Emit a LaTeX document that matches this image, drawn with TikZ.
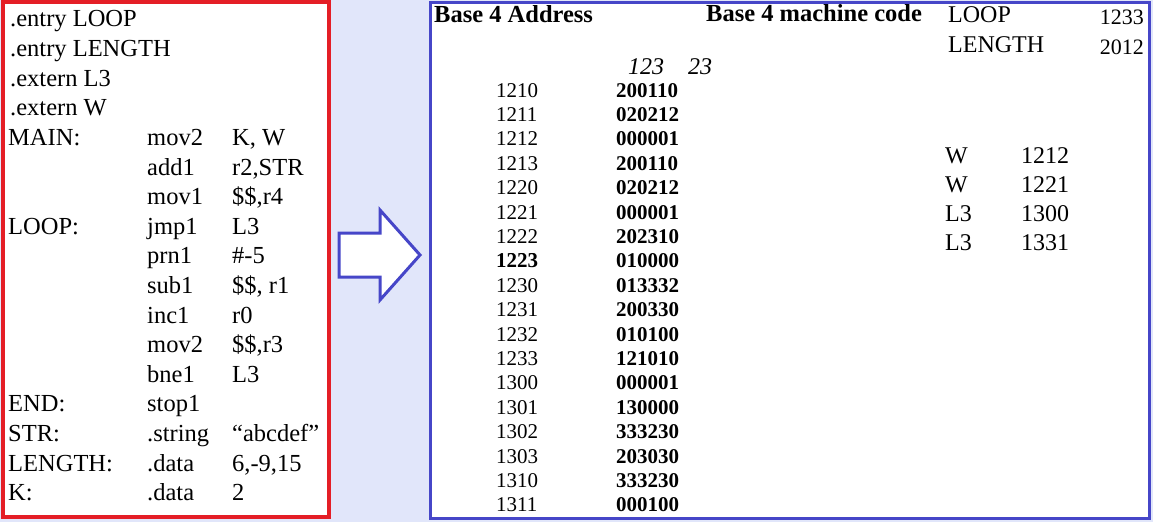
\documentclass[tikz,border=0pt]{standalone}
\usepackage{fontspec}
\setmainfont{Liberation Serif}
\definecolor{boxred}{RGB}{228,30,38}
\definecolor{boxblue}{RGB}{70,70,200}
\definecolor{bgblue}{RGB}{225,230,250}
\begin{document}
\begin{tikzpicture}[
    x=1pt, y=-1pt,
    src/.style={
        anchor=base west,
        inner sep=0pt,
        yshift=-8pt,
        font=\fontsize{24.5}{26}\selectfont
    },
    obj/.style={
        anchor=base west,
        inner sep=0pt,
        yshift=-7pt,
        font=\fontsize{21}{23}\selectfont
    },
    code/.style={
        obj,
        font=\fontsize{21}{23}\selectfont\bfseries
    },
    sym/.style={
        obj,
        yshift=-1pt,
        font=\fontsize{24}{26}\selectfont
    }
]

\useasboundingbox (0,0) rectangle (1153,522);
\fill[bgblue] (0,0) rectangle (1153,522);

% Source program
\fill[white] (3,2) rectangle (329,517);
\draw[boxred, line width=4pt] (3,2) rectangle (329,517);

\foreach \txt [count=\i] in {.entry LOOP, .entry LENGTH, .extern L3, .extern W}
    \node[src] (dir\i) at (10,{19+29.6*(\i-1)}) {\txt};

\foreach \lab/\op/\arg [count=\i] in {
    MAIN:/mov2/{K, W}, /add1/{r2,STR}, /mov1/{\$\$,r4},
    LOOP:/jmp1/L3, /prn1/\#-5, /sub1/{\$\$, r1}, /inc1/r0,
    /mov2/{\$\$,r3}, /bne1/L3, END:/stop1/, STR:/.string/{``abcdef''},
    LENGTH:/.data/{6,-9,15}, K:/.data/2}
{
    \node[src] (lab\i) at (8,{19+29.6*(\i+3)}) {\lab};
    \node[src] (op\i) at (147,{19+29.6*(\i+3)}) {\op};
    \node[src] (arg\i) at (232,{19+29.6*(\i+3)}) {\arg};
}

% Arrow
\draw[boxblue, line width=3pt, fill=white]
    (339,233) -- (380,233) -- (380,210) -- (420,255) -- (380,300)
    -- (380,277) -- (339,277) -- cycle;

% Object file
\fill[white] (430,2) rectangle (1149,518);
\draw[boxblue, line width=3pt] (430,2) rectangle (1149,518);

\node[code, yshift=-1pt, font=\fontsize{24.5}{26}\selectfont\bfseries] (hadr) at (434,15) {Base 4 Address};
\node[code, yshift=-1pt, font=\fontsize{24.5}{26}\selectfont\bfseries] (hcode) at (706,13) {Base 4 machine code};
\node[sym, font=\fontsize{24}{26}\selectfont\itshape] (cols) at (628,66) {123\quad 23};

\foreach \adr/\mc [count=\i] in {
    1210/200110, 1211/020212, 1212/000001, 1213/200110, 1220/020212,
    1221/000001, 1222/202310, 1223/010000, 1230/013332, 1231/200330,
    1232/010100, 1233/121010, 1300/000001, 1301/130000, 1302/333230,
    1303/203030, 1310/333230, 1311/000100}
{
    \node[obj] (adr\i) at (496,{90+24.4*(\i-1)}) {\adr};
    \node[code] (mc\i) at (616,{90+24.4*(\i-1)}) {\mc};
}
\node[obj, font=\fontsize{21}{23}\selectfont\bfseries, fill=white] at (496,{90+24.4*7}) {1223};

% Entries and externals
\node[sym] (ent1) at (948,15) {LOOP};
\node[sym, font=\fontsize{22}{24}\selectfont, anchor=base east] (entv1) at (1144,16) {1233};
\node[sym] (ent2) at (948,44) {LENGTH};
\node[sym, font=\fontsize{22}{24}\selectfont, anchor=base east] (entv2) at (1144,46) {2012};

\foreach \val/\s [count=\i] in {1212/W, 1221/W, 1300/L3, 1331/L3}
{
    \node[sym] (ext\i) at (945,{155+29*(\i-1)}) {\s};
    \node[sym] (extv\i) at (1021,{155+29*(\i-1)}) {\val};
}

\end{tikzpicture}
\end{document}
